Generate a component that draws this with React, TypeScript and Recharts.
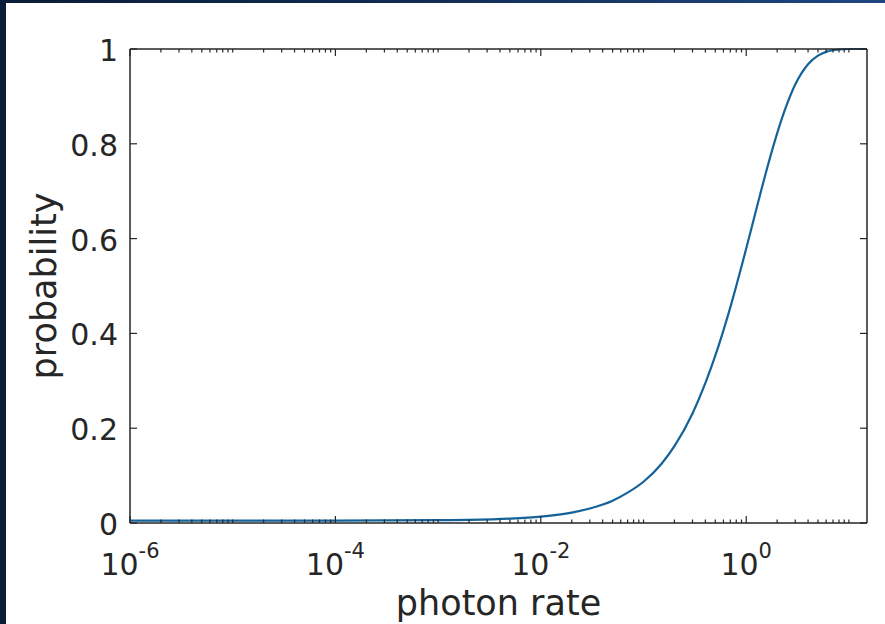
import React from 'react';
import { LineChart, Line, XAxis, YAxis } from 'recharts';

// Detection probability versus incident photon rate (log-scaled rate axis)
const photonRate = [
  1e-6, 1e-5, 1e-4, 1e-3, 0.002, 0.005, 0.01, 0.02, 0.03, 0.05, 0.07, 0.1,
  0.15, 0.2, 0.3, 0.4, 0.5, 0.7, 1, 1.3, 1.6, 2, 2.5, 3, 4, 5, 6, 8, 10, 15,
];
const probability = [
  0.005, 0.005, 0.005, 0.006, 0.0067, 0.0093, 0.0136, 0.022, 0.0306, 0.047, 0.064, 0.087,
  0.125, 0.162, 0.231, 0.295, 0.353, 0.455, 0.579, 0.675, 0.749, 0.822, 0.884, 0.925,
  0.968, 0.986, 0.994, 0.999, 1.0, 1.0,
];

const xDomain: [number, number] = [1e-6, 15];
const labeledExponents = [-6, -4, -2, 0];
const decadeExponents = [-6, -5, -4, -3, -2, -1, 0, 1];
const yTicks = [0, 0.2, 0.4, 0.6, 0.8, 1];
const yTickLabels = ['0', '0.2', '0.4', '0.6', '0.8', '1'];

const xLabel = 'photon rate';
const yLabel = 'probability';

const data = photonRate.map((rate, i) => ({ rate, p: probability[i] }));

// every k·10^n tick position inside the axis range
const xTicks: number[] = [];
decadeExponents.forEach((e) => {
  for (let k = 1; k <= 9; k++) {
    const v = k * Math.pow(10, e);
    if (v >= xDomain[0] * 0.999 && v <= xDomain[1]) xTicks.push(v);
  }
});

const INK = '#262626';
const FONT = '"DejaVu Sans", sans-serif';
const LINE = '#14629a';

const majorExponent = (v: number): number | null => {
  const e = Math.log10(v);
  const r = Math.round(e);
  if (Math.abs(e - r) < 1e-6 && labeledExponents.includes(r)) return r;
  return null;
};

const BottomTick = (props: any) => {
  const { x, y, payload } = props;
  const ex = majorExponent(payload.value);
  const major = ex !== null;
  return (
    <g>
      <line x1={x} x2={x} y1={y} y2={y - (major ? 7 : 3.5)} stroke={INK} strokeWidth={1.2} />
      {major && (
        <text x={x} y={y + 52} textAnchor="middle" fill={INK} fontFamily={FONT} fontSize={30}>
          <tspan>10</tspan>
          <tspan dy={-17} fontSize={21}>{String(ex)}</tspan>
        </text>
      )}
    </g>
  );
};

const TopTick = (props: any) => {
  const { x, y, payload } = props;
  const major = majorExponent(payload.value) !== null;
  return <line x1={x} x2={x} y1={y} y2={y + (major ? 7 : 3.5)} stroke={INK} strokeWidth={1.2} />;
};

const LeftTick = (props: any) => {
  const { x, y, payload, index } = props;
  return (
    <g>
      <line x1={x} x2={x + 7} y1={y} y2={y} stroke={INK} strokeWidth={1.2} />
      <text x={x - 12} y={y + 12} textAnchor="end" fill={INK} fontFamily={FONT} fontSize={30}>
        {yTickLabels[index] ?? String(payload.value)}
      </text>
    </g>
  );
};

const RightTick = (props: any) => {
  const { x, y } = props;
  return <line x1={x} x2={x - 7} y1={y} y2={y} stroke={INK} strokeWidth={1.2} />;
};

const XTitle = (props: any) => {
  const vb = props.viewBox || {};
  return (
    <text x={vb.x + vb.width / 2} y={vb.y + 92} textAnchor="middle" fill={INK} fontFamily={FONT} fontSize={35}>
      {xLabel}
    </text>
  );
};

const YTitle = (props: any) => {
  const vb = props.viewBox || {};
  const cx = 56;
  const cy = vb.y + vb.height / 2;
  return (
    <text x={cx} y={cy} transform={`rotate(-90 ${cx} ${cy})`} textAnchor="middle" fill={INK} fontFamily={FONT} fontSize={35}>
      {yLabel}
    </text>
  );
};

export default function App() {
  return (
    <div
      style={{
        position: 'fixed',
        left: 0,
        top: 0,
        width: 885,
        height: 624,
        background: 'linear-gradient(90deg, #0a1d38 0%, #10294d 40%, #1a3b6c 75%, #1f4680 100%)',
        overflow: 'hidden',
      }}
    >
      <div style={{ position: 'absolute', left: 6, top: 3, right: 0, bottom: 0, background: '#ffffff' }} />
      <div style={{ position: 'absolute', left: 0, top: 0 }}>
        <LineChart width={885} height={624} data={data} margin={{ top: 48, right: 17, bottom: 41, left: 50 }}>
          <XAxis
            dataKey="rate"
            type="number"
            scale="log"
            domain={xDomain}
            allowDataOverflow
            ticks={xTicks}
            interval={0}
            tickSize={0}
            tickMargin={0}
            tick={<BottomTick />}
            height={60}
            axisLine={{ stroke: INK, strokeWidth: 1.5 }}
            tickLine={false}
            label={{ content: <XTitle /> }}
          />
          <XAxis
            xAxisId="top"
            orientation="top"
            dataKey="rate"
            type="number"
            scale="log"
            domain={xDomain}
            allowDataOverflow
            ticks={xTicks}
            interval={0}
            tickSize={0}
            tickMargin={0}
            tick={<TopTick />}
            height={1}
            axisLine={{ stroke: INK, strokeWidth: 1.5 }}
            tickLine={false}
          />
          <YAxis
            type="number"
            domain={[0, 1]}
            ticks={yTicks}
            interval={0}
            tickSize={0}
            tickMargin={0}
            tick={<LeftTick />}
            width={80}
            axisLine={{ stroke: INK, strokeWidth: 1.5 }}
            tickLine={false}
            label={{ content: <YTitle /> }}
          />
          <YAxis
            yAxisId="right"
            orientation="right"
            type="number"
            domain={[0, 1]}
            ticks={yTicks}
            interval={0}
            tickSize={0}
            tickMargin={0}
            tick={<RightTick />}
            width={1}
            axisLine={{ stroke: INK, strokeWidth: 1.5 }}
            tickLine={false}
          />
          {/* invisible twin series so the top/right box axes share the same scales */}
          <Line
            xAxisId="top"
            yAxisId="right"
            type="monotone"
            dataKey="p"
            stroke="none"
            dot={false}
            activeDot={false}
            isAnimationActive={false}
          />
          <Line
            type="monotone"
            dataKey="p"
            stroke={LINE}
            strokeWidth={2.2}
            dot={false}
            isAnimationActive={false}
          />
        </LineChart>
      </div>
    </div>
  );
}
